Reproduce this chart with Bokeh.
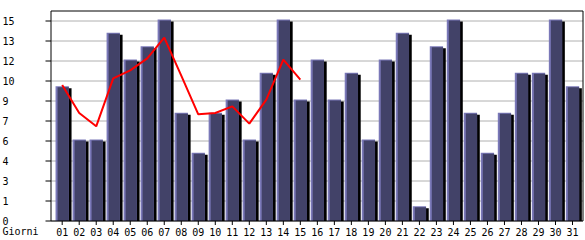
from bokeh.plotting import figure
from bokeh.models import ColumnDataSource
from bokeh.transform import dodge
from bokeh.core.properties import value
from bokeh.embed import file_html
from bokeh.resources import INLINE

# ---- data ----
day_num = list(range(1, 32))
day_labels = [f"{i:02d}" for i in day_num]
visits = [10, 6, 6, 14, 12, 13, 15, 8, 5, 8, 9, 6, 11, 15, 9, 12, 9, 11, 6, 12,
          14, 1, 13, 15, 8, 5, 8, 11, 11, 15, 10]
trend_days = list(range(1, 16))
trend = [10.2, 8.1, 7.1, 10.7, 11.3, 12.2, 13.75, 10.9, 8.0, 8.1, 8.6, 7.3, 9.1, 12.1, 10.6]
y_ticks = [0, 1.5, 3, 4.5, 6, 7.5, 9, 10.5, 12, 13.5, 15]
y_tick_labels = ["0", "1", "3", "4", "6", "7", "9", "10", "12", "13", "15"]
x_title = "Giorni"

# ---- layout constants (pixel geometry of the plot area) ----
W, H = 585, 240
X1_PX = 61.7          # pixel of day 1
PX_PER_DAY = 17.01
Y0_PX = 220.5         # pixel of value 0
PX_PER_UNIT = 13.333
LEFT_PX, RIGHT_PX, TOP_PX = 50.5, 582.5, 10.5


def px_to_x(px):
    return 1 + (px - X1_PX) / PX_PER_DAY


def py_to_y(py):
    return (Y0_PX - py) / PX_PER_UNIT


def dx(px):
    return px / PX_PER_DAY


def dy(px):
    return px / PX_PER_UNIT


FONT = value("DejaVu Sans Mono")
FS = value("10px")

p = figure(width=W, height=H, x_range=(px_to_x(0), px_to_x(W)), y_range=(py_to_y(H), py_to_y(0)),
           output_backend="svg", toolbar_location=None, x_axis_type=None, y_axis_type=None,
           min_border=0, min_border_left=0, min_border_right=0, min_border_top=0, min_border_bottom=0)
p.background_fill_color = "white"
p.border_fill_color = "white"
p.outline_line_color = None
p.grid.visible = False

x_left, x_right = px_to_x(LEFT_PX), px_to_x(RIGHT_PX)
y_top = py_to_y(TOP_PX)

# grid lines
p.segment(x0=[x_left] * len(y_ticks), x1=[x_right] * len(y_ticks), y0=y_ticks, y1=y_ticks,
          line_color="#b0b0b0", line_width=1)

# bars
bar_w = dx(13.3)
src = ColumnDataSource(dict(x=day_num, top=[v + dy(1.5) for v in visits]))
p.vbar(x=dodge("x", dx(2.7)), top=dodge("top", -dy(2)), width=bar_w, bottom=0, source=src,
       fill_color="black", line_color=None)
p.vbar(x="x", top="top", width=bar_w, bottom=0, source=src,
       fill_color="#7a78b8", line_color=None)
p.vbar(x=dodge("x", dx(1.0)), top=dodge("top", -dy(1)), width=bar_w - dx(2.0), bottom=0, source=src,
       fill_color="#424268", line_color=None)

# trend line
p.line(trend_days, trend, line_color="#ff0000", line_width=2)

# frame: axes lines and border
p.segment(x0=[x_left, x_left, x_left, x_right], y0=[0, 0, y_top, 0],
          x1=[x_right, x_left, x_right, x_right], y1=[0, y_top, y_top, y_top],
          line_color="black", line_width=1)

# y ticks and labels
p.segment(x0=[px_to_x(45)] * len(y_ticks), x1=[x_left] * len(y_ticks), y0=y_ticks, y1=y_ticks,
          line_color="black", line_width=1)
p.text(x=[px_to_x(2)] * len(y_ticks), y=y_ticks, text=y_tick_labels, text_font=FONT,
       text_font_size=FS, text_align="left", text_baseline="middle", text_color="black")

# x ticks and labels
p.segment(x0=day_num, x1=day_num, y0=[0] * len(day_num), y1=[-dy(4)] * len(day_num),
          line_color="black", line_width=1)
p.text(x=day_num, y=[py_to_y(231)] * len(day_num), text=day_labels, text_font=FONT,
       text_font_size=FS, text_align="center", text_baseline="middle", text_color="black")

# axis title
p.text(x=[px_to_x(2)], y=[py_to_y(231)], text=[x_title], text_font=FONT,
       text_font_size=FS, text_align="left", text_baseline="middle", text_color="black")

open("out.html", "w").write(file_html(p, INLINE))
